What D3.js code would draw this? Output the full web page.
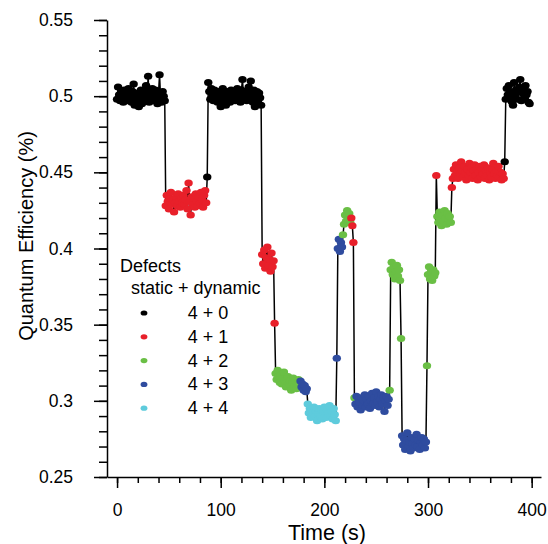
<!DOCTYPE html>
<html>
<head>
<meta charset="utf-8">
<script src="https://cdn.jsdelivr.net/npm/d3@7"></script>
<style>
  body { margin: 0; background: #fff; }
  svg { display: block; font-family: Arial, "Liberation Sans", Helvetica, sans-serif; }
</style>
</head>
<body>
<svg id="chart" width="548" height="544"></svg>
<script>
// defect states (static + dynamic) and their colours
const stateLabels = ["4 + 0", "4 + 1", "4 + 2", "4 + 3", "4 + 4"];
const stateColors = ["#000000", "#e8202a", "#6abf45", "#2f4c9f", "#5ecbdc"];

// trace: one sample per second, grouped in runs of one state
const segState = [0, 1, 0, 0, 1, 1, 2, 3, 4, 3, 3, 2, 2, 1, 1, 2, 3, 2, 2, 2, 3, 2, 2, 1, 2, 1, 1, 0, 0];
const segStart = [0, 47, 87, 88, 140, 152, 153, 177, 184, 212, 213, 218, 219, 226, 228, 229, 230, 263, 264, 274, 275, 299, 300, 308, 309, 323, 324, 374, 375];
const segValues = [
  [0.498, 0.506, 0.501, 0.497, 0.503, 0.499, 0.496, 0.504, 0.500, 0.502,
   0.497, 0.505, 0.499, 0.501, 0.496, 0.503, 0.508, 0.494, 0.500, 0.497,
   0.502, 0.493, 0.499, 0.504, 0.495, 0.501, 0.498, 0.503, 0.507, 0.500,
   0.513, 0.496, 0.502, 0.499, 0.505, 0.497, 0.501, 0.504, 0.498, 0.495,
   0.502, 0.514, 0.499, 0.496, 0.503, 0.500, 0.497],
  [0.428, 0.435, 0.431, 0.426, 0.433, 0.437, 0.429, 0.432, 0.424, 0.430,
   0.434, 0.428, 0.436, 0.431, 0.427, 0.433, 0.430, 0.435, 0.429, 0.432,
   0.438, 0.426, 0.443, 0.431, 0.422, 0.434, 0.429, 0.433, 0.427, 0.436,
   0.431, 0.428, 0.434, 0.430, 0.437, 0.432, 0.427, 0.435, 0.438, 0.430],
  [0.447],
  [0.509, 0.503, 0.498, 0.505, 0.501, 0.497, 0.504, 0.500, 0.502, 0.496,
   0.503, 0.499, 0.493, 0.501, 0.505, 0.497, 0.500, 0.494, 0.503, 0.499,
   0.502, 0.496, 0.504, 0.500, 0.498, 0.503, 0.497, 0.501, 0.505, 0.499,
   0.502, 0.496, 0.504, 0.511, 0.500, 0.498, 0.503, 0.497, 0.501, 0.506,
   0.499, 0.510, 0.502, 0.496, 0.504, 0.493, 0.500, 0.503, 0.497, 0.502,
   0.499, 0.494],
  [0.396, 0.390, 0.399, 0.387, 0.394, 0.401, 0.389, 0.393, 0.385, 0.397, 0.388, 0.392],
  [0.351],
  [0.318, 0.314, 0.320, 0.316, 0.312, 0.317, 0.311, 0.315, 0.319, 0.313,
   0.309, 0.314, 0.316, 0.311, 0.313, 0.307, 0.312, 0.315, 0.310, 0.313,
   0.308, 0.312, 0.314, 0.310],
  [0.313, 0.309, 0.311, 0.307, 0.310, 0.306, 0.308],
  [0.298, 0.292, 0.295, 0.289, 0.294, 0.291, 0.296, 0.290, 0.293, 0.287,
   0.292, 0.295, 0.290, 0.294, 0.288, 0.293, 0.296, 0.291, 0.289, 0.294,
   0.292, 0.297, 0.290, 0.293, 0.288, 0.295, 0.291, 0.287],
  [0.328],
  [0.400, 0.406, 0.398, 0.404, 0.401],
  [0.409],
  [0.416, 0.422, 0.418, 0.425, 0.419, 0.423, 0.417],
  [0.420, 0.415],
  [0.404],
  [0.302],
  [0.298, 0.303, 0.296, 0.301, 0.299, 0.294, 0.302, 0.297, 0.300, 0.304,
   0.296, 0.301, 0.298, 0.303, 0.295, 0.300, 0.305, 0.298, 0.302, 0.297,
   0.306, 0.299, 0.303, 0.296, 0.301, 0.304, 0.298, 0.302, 0.293, 0.300,
   0.303, 0.297, 0.301],
  [0.307],
  [0.386, 0.391, 0.383, 0.388, 0.380, 0.385, 0.389, 0.382, 0.386, 0.379],
  [0.341],
  [0.277, 0.271, 0.275, 0.268, 0.274, 0.279, 0.270, 0.273, 0.267, 0.276,
   0.272, 0.269, 0.275, 0.271, 0.278, 0.270, 0.274, 0.268, 0.273, 0.276,
   0.271, 0.275, 0.269, 0.273],
  [0.323],
  [0.383, 0.388, 0.380, 0.385, 0.379, 0.386, 0.382, 0.384],
  [0.448],
  [0.421, 0.417, 0.424, 0.419, 0.415, 0.422, 0.418, 0.425, 0.420, 0.416,
   0.423, 0.419, 0.421, 0.417],
  [0.440],
  [0.446, 0.452, 0.448, 0.455, 0.450, 0.446, 0.453, 0.449, 0.457, 0.451,
   0.447, 0.454, 0.450, 0.445, 0.452, 0.448, 0.456, 0.450, 0.453, 0.446,
   0.451, 0.455, 0.448, 0.452, 0.445, 0.450, 0.454, 0.447, 0.452, 0.449,
   0.455, 0.446, 0.451, 0.448, 0.453, 0.445, 0.450, 0.447, 0.452, 0.456,
   0.449, 0.446, 0.451, 0.448, 0.454, 0.447, 0.450, 0.445, 0.449, 0.446],
  [0.457],
  [0.498, 0.505, 0.501, 0.507, 0.499, 0.503, 0.496, 0.494, 0.509, 0.500,
   0.504, 0.498, 0.503, 0.506, 0.511, 0.497, 0.502, 0.505, 0.499, 0.507,
   0.501, 0.503, 0.496, 0.495]
];

// axis ticks
const xMajorTicks = [0, 100, 200, 300, 400];
const xMinorTicks = d3.range(0, 401, 20);
const yMajorTicks = [0.25, 0.3, 0.35, 0.4, 0.45, 0.5, 0.55];
const yTickLabels = ["0.25", "0.3", "0.35", "0.4", "0.45", "0.5", "0.55"];
const yMinorTicks = d3.range(25, 56).map((d) => d / 100);

// flatten runs into points
const points = [];
segValues.forEach((vals, i) => {
  vals.forEach((v, j) => {
    points.push({ t: segStart[i] + j, qe: v, state: segState[i] });
  });
});

const margin = { top: 20, right: 7, bottom: 67, left: 107 };
const width = 548, height = 544;

const x = d3.scaleLinear().domain([-9.7, 409]).range([margin.left, width - margin.right]);
const y = d3.scaleLinear().domain([0.25, 0.55]).range([height - margin.bottom, margin.top]);

const svg = d3.select("#chart");

// data line
const line = d3.line().x((d) => x(d.t)).y((d) => y(d.qe));
svg.append("path")
  .datum(points)
  .attr("fill", "none")
  .attr("stroke", "#000")
  .attr("stroke-width", 1.5)
  .attr("d", line);

// dots
svg.append("g")
  .selectAll("ellipse")
  .data(points)
  .join("ellipse")
  .attr("cx", (d) => x(d.t))
  .attr("cy", (d) => y(d.qe))
  .attr("rx", 4.2)
  .attr("ry", 3.5)
  .attr("fill", (d) => stateColors[d.state]);

// y axis
const yAxisG = svg.append("g").attr("transform", `translate(${margin.left},0)`);
yAxisG.call(d3.axisLeft(y).tickValues(yMinorTicks).tickSize(8).tickFormat(""));
yAxisG.call((g) => g.selectAll(".domain").remove());
yAxisG.append("g").call(
  d3.axisLeft(y)
    .tickValues(yMajorTicks)
    .tickSize(13)
    .tickSizeOuter(0)
    .tickPadding(21)
    .tickFormat((d, i) => yTickLabels[i])
);

// x axis
const xAxisG = svg.append("g").attr("transform", `translate(0,${height - margin.bottom})`);
xAxisG.call(d3.axisBottom(x).tickValues(xMinorTicks).tickSize(6).tickFormat(""));
xAxisG.call((g) => g.selectAll(".domain").remove());
xAxisG.append("g").call(
  d3.axisBottom(x)
    .tickValues(xMajorTicks)
    .tickSize(11)
    .tickSizeOuter(0)
    .tickPadding(16)
    .tickFormat(d3.format("d"))
);

svg.selectAll(".domain, .tick line").attr("stroke", "#000").attr("stroke-width", 1.5);
svg.selectAll(".tick text").attr("fill", "#000").style("font-size", "17.5px").style("font-family", null);

// axis titles
svg.append("text")
  .attr("x", 327)
  .attr("y", 540)
  .attr("text-anchor", "middle")
  .style("font-size", "21.5px")
  .text("Time (s)");

svg.append("text")
  .attr("transform", "translate(33,236) rotate(-90)")
  .attr("text-anchor", "middle")
  .style("font-size", "20px")
  .text("Quantum Efficiency (%)");

// legend
const legend = svg.append("g");
legend.append("text").attr("x", 120).attr("y", 272).style("font-size", "18px").text("Defects");
legend.append("text").attr("x", 131).attr("y", 294).style("font-size", "18px").text("static + dynamic");
const item = legend.selectAll("g.item")
  .data(stateLabels)
  .join("g")
  .attr("class", "item")
  .attr("transform", (d, i) => `translate(0,${313 + i * 23.8})`);
item.append("ellipse")
  .attr("cx", 144)
  .attr("cy", 0)
  .attr("rx", 3.4)
  .attr("ry", 2.6)
  .attr("fill", (d, i) => stateColors[i]);
item.append("text")
  .attr("x", 208)
  .attr("y", 6)
  .attr("text-anchor", "middle")
  .style("font-size", "18px")
  .text((d) => d);
</script>
</body>
</html>
